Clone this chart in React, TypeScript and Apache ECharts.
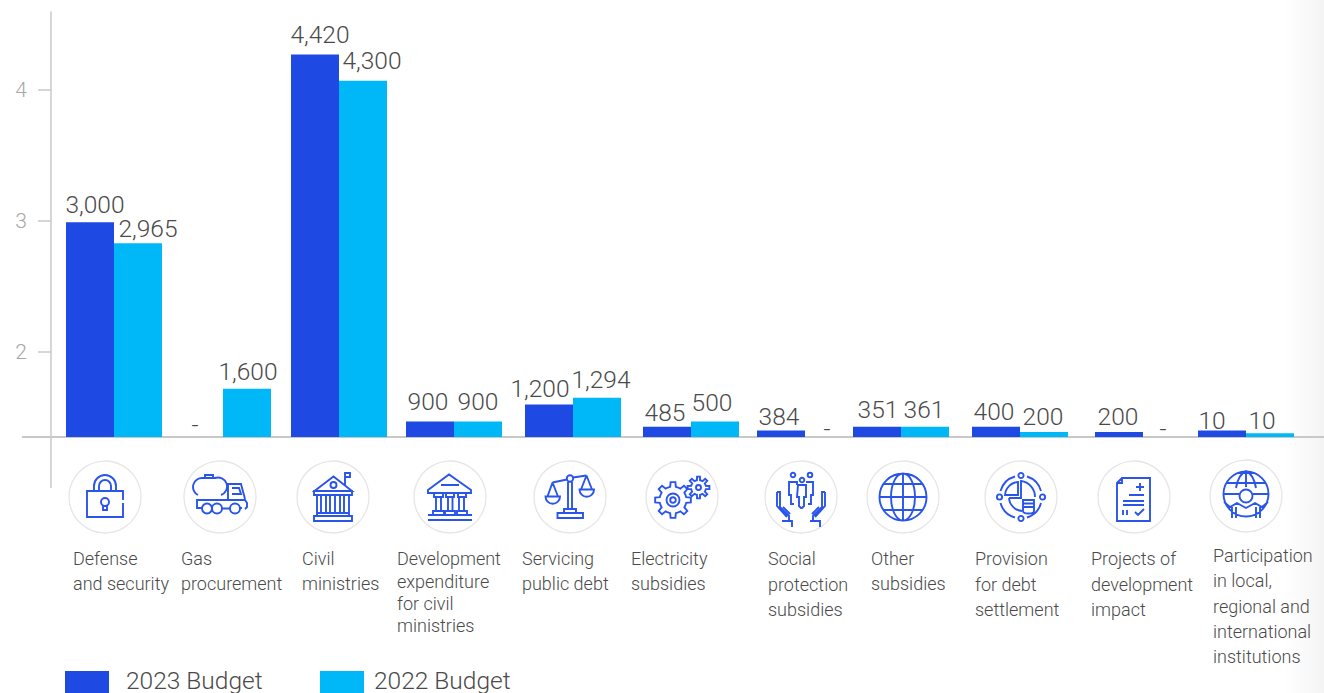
import React, { useEffect, useRef } from "react";
import * as echarts from "echarts";

// ---- data ----
const categories = [
  "Defense\nand security",
  "Gas\nprocurement",
  "Civil\nministries",
  "Development\nexpenditure\nfor civil\nministries",
  "Servicing\npublic debt",
  "Electricity\nsubsidies",
  "Social\nprotection\nsubsidies",
  "Other\nsubsidies",
  "Provision\nfor debt\nsettlement",
  "Projects of\ndevelopment\nimpact",
  "Participation\nin local,\nregional and\ninternational\ninstitutions",
];
const tickValues = [2, 3, 4];
const seriesNames = ["2023 Budget", "2022 Budget"];
const printed2023 = ["3,000", "-", "4,420", "900", "1,200", "485", "384", "351", "400", "200", "10"];
const printed2022 = ["2,965", "1,600", "4,300", "900", "1,294", "500", "-", "361", "200", "-", "10"];
// bar heights as drawn against the left axis
const heights2023 = [2.99, 1.351, 4.27, 1.47, 1.6, 1.43, 1.4, 1.43, 1.43, 1.39, 1.4];
const heights2022 = [2.83, 1.72, 4.07, 1.47, 1.65, 1.47, 1.351, 1.43, 1.39, 1.351, 1.38];

// ---- layout ----
const AXIS_BASE = 1.351;
const AXIS_TOP = 4.595;
const groupCentres = [114, 223, 339, 454, 573, 691, 805, 901, 1020, 1143, 1246];
const labelShift2023 = [[5, 0], [-4, 5], [5, -3], [-2, -2], [-9, 2], [-2, 3], [-2, 3], [1, 0], [-2, 2], [-1, 2], [-10, 7]];
const labelShift2022 = [[10, 3], [1, 0], [9, -3], [0, -2], [4, -1], [-3, -1], [-2, 9], [-1, 0], [-1, 2], [-4, 9], [-8, 5]];
const iconCentres = [
  [105, 497], [220, 497], [333, 497], [450, 497], [570, 497], [682, 497],
  [801, 497], [903, 497], [1021, 497], [1134, 497], [1246, 496],
];
const textSpots = [
  [73, 546, 25], [181, 546, 25], [302, 546, 25], [397, 547.5, 22.4], [522, 546, 25], [631, 546, 25],
  [768, 546, 25.5], [871, 546, 25], [975, 546, 25.5], [1091, 546, 25.5], [1213, 543, 25.3],
];
const legendSpots = [
  [65, 126],
  [320, 374],
];

const BLUE = "#1f49e3";
const CYAN = "#00b8f7";
const ICON = "#2a55ea";
const FONT = "Roboto";

function circle(cx: number, cy: number, r: number) {
  return `M${cx - r} ${cy}A${r} ${r} 0 1 1 ${cx + r} ${cy}A${r} ${r} 0 1 1 ${cx - r} ${cy}Z`;
}
function gear(cx: number, cy: number, ro: number, ri: number, teeth: number) {
  let d = "";
  const step = (Math.PI * 2) / teeth;
  for (let i = 0; i < teeth; i++) {
    const a = i * step;
    const pts = [
      [ri, a - step * 0.5], [ri, a - step * 0.27], [ro, a - step * 0.17], [ro, a + step * 0.17], [ri, a + step * 0.27],
    ];
    for (const [r, t] of pts) {
      d += `${d ? "L" : "M"}${(cx + r * Math.cos(t)).toFixed(2)} ${(cy + r * Math.sin(t)).toFixed(2)}`;
    }
  }
  return d + "Z";
}

const iconPaths = [
  // lock
  "M54 39V30H18V56H54V42M25 30V25A11 11 0 0 1 47 25V30M30 30V25A6 6 0 0 1 42 25V30" +
    circle(36, 41, 4) + "M34 45V49H38V45",
  // tanker
  "M14 34A9 9 0 0 1 19 17H31A9 9 0 0 1 37 34M21 17V14H29V17M44 38V23H57L61 38M48 27H55L57 33H48" +
    "M13 42V39H61L63 42V46L61 48M13 42V47H18M28 47H28.2M56 47H58" +
    circle(23, 47.5, 5) + circle(33, 47.5, 5) + circle(51, 47.5, 5) + "M38 47.5H46",
  // civil building
  "M17.5 30L36.5 15.5L55 30ZM17 30H55V34H17ZM48 24V12H53V16H48" + circle(36.5, 24, 3) +
    "M20 34V52M24 34V52M29 34V52M33 34V52M38 34V52M43 34V52M47 34V52M52 34V52M20 52H52V55H20ZM17 55H55V60H17Z",
  // development building
  "M14 29L35 13.5L57 29V32H14ZM27 24H45M20 32V36H29V32M22 36V50M27 36V50M32 32V36H40V32M34 36V50M38.5 36V50M44 32V36H52V32M45 36V50M50 36V50" +
    "M19 50H30V54H19ZM31 50H41V54H31ZM43 50H53V54H43ZM14 54H58M14 59H58",
  // scales
  circle(36, 17.5, 3.2) + "M18.5 21.5L33 18.5M39 16.5L52.5 14.5M18.5 21.5L13.5 35.5M18.5 21.5L24 35.5M11.5 35.5H26A7 7 0 0 1 11.5 35.5Z" +
    "M52.5 14.5L47 28.5M52.5 14.5L58 28.5M45.5 28.5H60A7 7 0 0 1 45.5 28.5ZM34 21V48M38 21V48M30 48H42V52H30ZM23.5 52H49V57H23.5Z",
  // gears
  gear(27, 39, 18, 13.5, 8) + circle(27, 39, 6.5) + circle(27, 39, 2.8) + gear(52.5, 26.5, 11, 7.5, 8) + circle(52.5, 26.5, 2.5),
  // people and hands
  circle(28, 14, 2.3) + circle(37, 19, 2.3) + circle(45, 14, 2.3) +
    "M32 24V21H24V34H26V43H29M41 21H48V34H46V43H43M33 24H41V36H39V45L37 47H36L34 45V36H32Z" +
    "M12 31H15V46L24 55V60M12 31V45L22 56M18 46L25 53M17 60H27V66M60 31H57V46L48 55V60M60 31V45L50 56M54 46L47 53M45 60H55V66",
  // globe
  circle(36, 36, 23.5) + "M36 12.5V59.5M12.5 36H59.5M16 23H56M16 49H56M36 12.5A12 23.5 0 0 1 36 59.5A12 23.5 0 0 1 36 12.5Z",
  // debt settlement pie
  "M30 15.5A21 21 0 0 0 15.5 30M42 15.5A21 21 0 0 1 56 30M56 42A21 21 0 0 1 42 56.5M30 56.5A21 21 0 0 1 15.5 42" +
    circle(36, 14.5, 2.6) + circle(14.5, 36, 2.6) + circle(57.5, 36, 2.6) + circle(36, 57.5, 2.6) +
    "M33 21V34H20A14 14 0 0 1 33 21ZM24 37H36V20A16 16 0 0 1 50 36M24 37A14 14 0 0 0 37 50" +
    "M38 39H49V50A5.5 2.5 0 0 1 38 50ZM38 42.5H49M38 46H49",
  // document
  "M24 17H52V60H19V22ZM24 17V22H19M42 22V30M38 26H46M31 34H46M25 40H46M25 44H46M25 49V54M29 49V54M37 51L40 54L46 48",
  // person in globe
  circle(36, 34, 22.5) + "M36 11.5V27M13.5 34H29M43 34H58.5M16 23H56M36 11.5A12 22.5 0 0 0 26 28M36 11.5A12 22.5 0 0 1 46 28" +
    circle(36, 36, 6.5) + "M14 42L20 47L27 43L36 48L45 43L52 47L58 42M22 47V58M26 47V58M46 47V58M50 47V58",
];
iconPaths.forEach((d, i) => {
  echarts.graphic.registerShape("icon" + i, echarts.graphic.extendPath(d, {}) as any);
});

const barData = (heights: number[], printed: string[], shift: number[][]) =>
  heights.map((h, i) => ({
    value: [groupCentres[i], h],
    label: { formatter: printed[i], offset: shift[i] },
  }));

const barLabel = {
  show: true,
  position: "top",
  fontFamily: FONT,
  fontWeight: 300,
  fontSize: 24.5,
  color: "#4a4a4a",
};

const iconGraphics = iconCentres.flatMap(([cx, cy], i) => [
  {
    type: "circle",
    shape: { cx, cy, r: 36 },
    style: { fill: "#fff", stroke: "#e6e6e6", lineWidth: 1.3 },
  },
  {
    type: "icon" + i,
    x: cx - 36,
    y: cy - 36,
    style: { fill: "none", stroke: ICON, lineWidth: 1.9 },
  },
]);

const textGraphics = categories.map((t, i) => ({
  type: "text",
  x: textSpots[i][0],
  y: textSpots[i][1],
  style: {
    text: t,
    fontFamily: FONT,
    fontWeight: 300,
    fontSize: 18,
    lineHeight: textSpots[i][2],
    fill: "#4a4a4a",
    textVerticalAlign: "top",
  },
}));

const legendGraphics = seriesNames.flatMap((name, i) => [
  {
    type: "rect",
    shape: { x: legendSpots[i][0], y: 671, width: 44, height: 22 },
    style: { fill: i === 0 ? BLUE : CYAN },
  },
  {
    type: "text",
    x: legendSpots[i][1],
    y: 680,
    style: {
      text: name,
      fontFamily: FONT,
      fontWeight: 300,
      fontSize: 24.5,
      fill: "#4a4a4a",
      textVerticalAlign: "middle",
    },
  },
]);

export default function App() {
  const ref = useRef<HTMLDivElement>(null);
  useEffect(() => {
    const chart = echarts.init(ref.current!, undefined, { renderer: "svg" });
    chart.setOption({
      animation: false,
      backgroundColor: "#fff",
      grid: { left: 51, right: 0, top: 12, bottom: 693 - 437, containLabel: false },
      xAxis: {
        type: "value",
        min: 51,
        max: 1324,
        splitLine: { show: false },
        axisTick: { show: false },
        axisLabel: { show: false },
        axisLine: { show: true, onZero: false, lineStyle: { color: "#c8c8c8", width: 2 } },
      },
      yAxis: {
        type: "value",
        min: AXIS_BASE,
        max: AXIS_TOP,
        splitLine: { show: false },
        axisLine: { show: true, lineStyle: { color: "#c8c8c8", width: 1.5 } },
        axisTick: { show: true, length: 13, customValues: tickValues, lineStyle: { color: "#c8c8c8", width: 1.5 } },
        axisLabel: {
          show: true,
          customValues: tickValues,
          margin: 24,
          fontFamily: FONT,
          fontWeight: 300,
          fontSize: 21,
          color: "#a8a8a8",
        },
      },
      series: [
        {
          name: seriesNames[0],
          type: "bar",
          barWidth: 48,
          barGap: 0,
          itemStyle: { color: BLUE },
          label: barLabel,
          data: barData(heights2023, printed2023, labelShift2023),
        },
        {
          name: seriesNames[1],
          type: "bar",
          barWidth: 48,
          barGap: 0,
          itemStyle: { color: CYAN },
          label: barLabel,
          data: barData(heights2022, printed2022, labelShift2022),
        },
      ],
      graphic: [
        {
          type: "rect",
          z: -10,
          shape: { x: 1284, y: 0, width: 40, height: 693 },
          style: {
            fill: new echarts.graphic.LinearGradient(0, 0, 1, 0, [
              { offset: 0, color: "#ffffff" },
              { offset: 1, color: "#f4f4f4" },
            ]),
          },
        },
        { type: "line", shape: { x1: 22, y1: 437, x2: 51, y2: 437 }, style: { stroke: "#c8c8c8", lineWidth: 2 } },
        { type: "line", shape: { x1: 51, y1: 437, x2: 51, y2: 488 }, style: { stroke: "#c8c8c8", lineWidth: 1.5 } },
        ...iconGraphics,
        ...textGraphics,
        ...legendGraphics,
      ],
    });
    return () => chart.dispose();
  }, []);
  return <div ref={ref} style={{ position: "absolute", left: 0, top: 0, width: 1324, height: 693 }} />;
}
